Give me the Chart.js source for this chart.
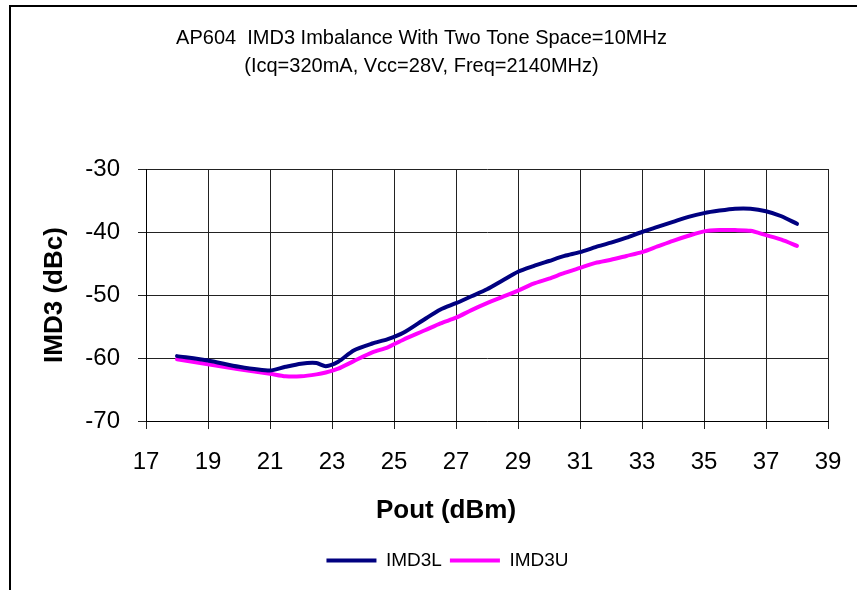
<!DOCTYPE html>
<html>
<head>
<meta charset="utf-8">
<title>AP604 IMD3 Imbalance</title>
<script src="https://cdn.jsdelivr.net/npm/chart.js@4/dist/chart.umd.min.js"></script>
<style>
    html, body { margin: 0; padding: 0; background: #fff; }
    #imdChart { display: block; }
</style>
</head>
<body>
<canvas id="imdChart" width="857" height="590"></canvas>
<script>
// Pout sweep (dBm) and measured third-order products (dBc)
const pout = [18, 19, 20, 21, 21.5, 22, 22.5, 22.8, 23.2, 23.7, 24.3, 24.8, 25.3, 26, 26.5, 27, 27.5, 28, 28.5,
    29, 29.5, 30, 30.5, 31, 31.5, 32, 32.5, 33, 33.5, 34, 34.5, 35, 35.5, 36, 36.5, 37, 37.5, 38];

const imd3L = [-59.7, -60.4, -61.4, -62.0, -61.4, -60.9, -60.8, -61.3, -60.6, -58.8, -57.7, -57.0, -56.0, -53.8,
    -52.3, -51.3, -50.2, -49.1, -47.7, -46.3, -45.4, -44.6, -43.8, -43.2, -42.4, -41.7, -40.9, -40.0, -39.2, -38.4,
    -37.6, -37.0, -36.6, -36.3, -36.3, -36.7, -37.5, -38.7];

const imd3U = [-60.2, -61.0, -61.8, -62.5, -62.9, -62.9, -62.6, -62.3, -61.7, -60.5, -59.1, -58.3, -57.1, -55.6,
    -54.5, -53.6, -52.4, -51.3, -50.3, -49.3, -48.2, -47.4, -46.5, -45.7, -44.9, -44.4, -43.8, -43.2, -42.3, -41.4,
    -40.6, -39.9, -39.7, -39.7, -39.8, -40.5, -41.2, -42.2];

const titleLines = ['AP604  IMD3 Imbalance With Two Tone Space=10MHz', '(Icq=320mA, Vcc=28V, Freq=2140MHz)'];
const xTitle = 'Pout (dBm)';
const yTitle = 'IMD3 (dBc)';
const xRange = [17, 39];
const yRange = [-70, -30];

const FONT = '"Liberation Sans", Arial, sans-serif';

function toPoints(values) {
    return pout.map((x, i) => ({ x: x, y: values[i] }));
}

// white page, black frame, and the x title / legend sat a bit left of the plot centre
const framePlugin = {
    id: 'frame',
    beforeDraw(chart) {
        const ctx = chart.ctx;
        ctx.save();
        ctx.fillStyle = '#fff';
        ctx.fillRect(0, 0, chart.width, chart.height);
        ctx.strokeStyle = '#000';
        ctx.lineWidth = 2;
        ctx.strokeRect(10, 6, chart.width + 10, chart.height + 10);
        ctx.restore();
    },
    afterLayout(chart) {
        const lg = chart.legend;
        lg.left += 26;
        lg.right += 26;
    },
    afterDraw(chart) {
        const ctx = chart.ctx;
        const area = chart.chartArea;
        ctx.save();
        ctx.fillStyle = '#000';
        ctx.font = 'bold 26px ' + FONT;
        ctx.textAlign = 'center';
        ctx.textBaseline = 'middle';
        ctx.fillText(xTitle, (area.left + area.right) / 2 - 41, area.bottom + 90);
        ctx.restore();
    }
};

function seriesStyle(color) {
    return {
        borderColor: color,
        backgroundColor: color,
        borderWidth: 4,
        borderCapStyle: 'round',
        borderJoinStyle: 'round',
        pointRadius: 0,
        pointHoverRadius: 0,
        pointStyle: 'line',
        tension: 0.25,
        fill: false
    };
}

new Chart(document.getElementById('imdChart'), {
    type: 'line',
    data: {
        datasets: [
            Object.assign({ label: 'IMD3L', data: toPoints(imd3L) }, seriesStyle('#000080')),
            Object.assign({ label: 'IMD3U', data: toPoints(imd3U) }, seriesStyle('#ff00ff'))
        ]
    },
    options: {
        responsive: false,
        animation: false,
        events: [],
        layout: { padding: { left: 15, right: 29, top: 0, bottom: 10 } },
        plugins: {
            title: {
                display: true,
                text: titleLines,
                color: '#000',
                font: { family: FONT, size: 20, weight: 'normal', lineHeight: 1.4 },
                padding: { top: 24, bottom: 89 }
            },
            legend: {
                position: 'bottom',
                labels: {
                    color: '#000',
                    font: { family: FONT, size: 19 },
                    usePointStyle: true,
                    pointStyleWidth: 50,
                    boxHeight: 4,
                    padding: 8
                }
            },
            tooltip: { enabled: false }
        },
        scales: {
            x: {
                type: 'linear',
                min: xRange[0],
                max: xRange[1],
                afterFit(scale) {
                    scale.height = 122;
                    scale.paddingLeft = 0;
                    scale.paddingRight = 0;
                },
                ticks: {
                    stepSize: 2,
                    color: '#000',
                    font: { family: FONT, size: 24 },
                    padding: 19,
                    maxRotation: 0
                },
                grid: { color: '#222', lineWidth: 1, tickLength: 8 },
                border: { color: '#000', width: 1 },
                title: { display: false }
            },
            y: {
                min: yRange[0],
                max: yRange[1],
                afterFit(scale) { scale.width = 131; },
                ticks: {
                    stepSize: 10,
                    color: '#000',
                    font: { family: FONT, size: 24 },
                    padding: 18
                },
                grid: { color: '#222', lineWidth: 1, tickLength: 8 },
                border: { color: '#000', width: 1 },
                title: {
                    display: true,
                    text: yTitle,
                    color: '#000',
                    font: { family: FONT, size: 26, weight: 'bold', lineHeight: 1.2 },
                    padding: { top: 24, bottom: 0 }
                }
            }
        }
    },
    plugins: [framePlugin]
});
</script>
</body>
</html>
